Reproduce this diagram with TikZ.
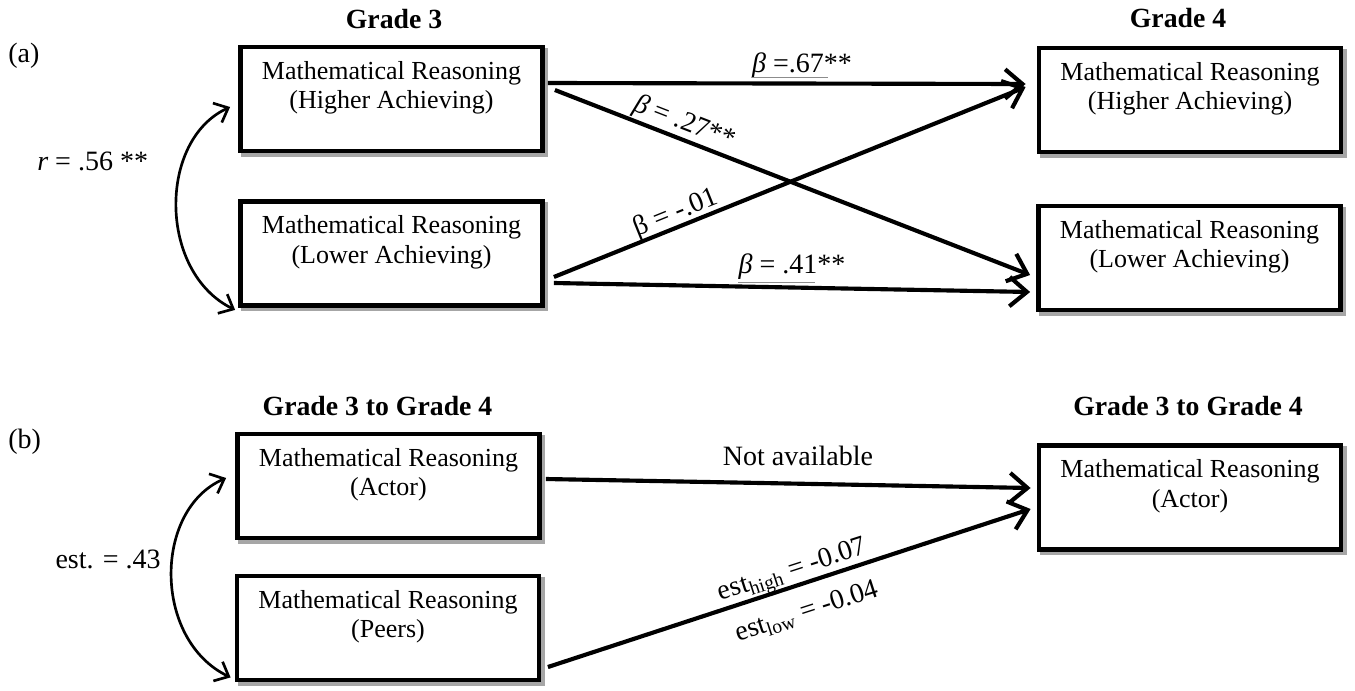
\documentclass[tikz,border=0pt]{standalone}
\usepackage{fontspec}
\setmainfont{Liberation Serif}
\usetikzlibrary{arrows.meta,calc,shadows}
\begin{document}
\begin{tikzpicture}[x=0.75pt,y=-0.75pt,
  font=\fontsize{19.5pt}{22pt}\selectfont,
  box/.style={draw, line width=3.6pt, fill=white, minimum width=226.5pt, minimum height=78pt, inner sep=0pt,
    drop shadow={shadow xshift=2.5pt,shadow yshift=-2.5pt,fill=black!35,draw=black!35,opacity=1}},
  boxtext/.style={anchor=north, align=center, inner sep=0pt},
  title/.style={font=\fontsize{20.8pt}{24pt}\selectfont\bfseries, anchor=base, inner sep=0pt},
  plain/.style={font=\fontsize{21pt}{24pt}\selectfont, inner sep=0pt},
  arr/.style={line width=3.1pt, -{Straight Barb[length=13pt,width=22pt]}},
  corr/.style={line width=2pt, {Straight Barb[length=9pt,width=16pt]}-{Straight Barb[length=9pt,width=16pt]}},
  uline/.style={draw=black!45, line width=0.6pt}
]
\useasboundingbox (0,0) rectangle (1355,690);

% panel labels
\node[plain, anchor=base west] (pa) at (8,62) {(a)};
\node[plain, anchor=base west] (pb) at (8,448) {(b)};

% titles
\node[title] (g3) at (394,28) {Grade 3};
\node[title] (g4) at (1178,27) {Grade 4};
\node[title] (g34a) at (377.5,415) {Grade 3 to Grade 4};
\node[title] (g34b) at (1188,415) {Grade 3 to Grade 4};

% boxes (a)
\node[box] (a1) at (391.5,99) {};
\node[box] (a2) at (391.5,253.5) {};
\node[box] (a3) at (1190,100) {};
\node[box] (a4) at (1189.5,258) {};
\node[boxtext] (a1t) at ($(a1.center)+(0,-38)$) {Mathematical Reasoning\\(Higher Achieving)};
\node[boxtext] (a2t) at ($(a2.center)+(0,-38)$) {Mathematical Reasoning\\(Lower Achieving)};
\node[boxtext] (a3t) at ($(a3.center)+(0,-38)$) {Mathematical Reasoning\\(Higher Achieving)};
\node[boxtext] (a4t) at ($(a4.center)+(0,-38)$) {Mathematical Reasoning\\(Lower Achieving)};

% boxes (b)
\node[box] (b1) at (388.5,486) {};
\node[box] (b2) at (388,628) {};
\node[box] (b3) at (1190,497.5) {};
\node[boxtext] (b1t) at ($(b1.center)+(0,-38)$) {Mathematical Reasoning\\(Actor)};
\node[boxtext] (b2t) at ($(b2.center)+(0,-38)$) {Mathematical Reasoning\\(Peers)};
\node[boxtext] (b3t) at ($(b3.center)+(0,-38)$) {Mathematical Reasoning\\(Actor)};

% arrows (a)
\draw[arr] ($(a1.east)+(3,-16)$) -- ($(a3.west)+(-11,-16)$);
\draw[arr] ($(a1.east)+(10,-9)$) -- ($(a4.west)+(-6,17)$)
  node[plain, sloped, above, pos=0.26, inner sep=1pt] (l27) {\textit{β} = .27**};
\draw[arr] ($(a2.east)+(9,23.5)$) -- ($(a3.west)+(-11,-13)$)
  node[plain, sloped, above, pos=0.27, inner sep=-1pt] (l01) {β = -.01};
\draw[arr] ($(a2.east)+(9,29.5)$) -- ($(a4.west)+(-6,34)$);

\node[plain, anchor=base] (l67) at (802,72) {\textit{β} =.67**};
\node[plain, anchor=base] (l41) at (792,273) {\textit{β} = .41**};
\draw[uline] (752,77) -- (828,77);
\draw[uline] (738,282) -- (815,282);

% correlation (a)
\node[plain, anchor=base west] (rl) at (37,170) {\textit{r} = .56 **};
\draw[corr] ($(a1.west)+(-8,8)$) .. controls (158,140) and (158,272) .. ($(a2.south west)+(-3,2)$);

% arrows (b)
\draw[arr] ($(b1.east)+(4,-7)$) -- ($(b3.west)+(-6,-9.5)$);
\draw[arr] ($(b2.east)+(6.5,39)$) -- ($(b3.west)+(-6,11.5)$);
\node[plain, rotate=17.9] (eh) at (793,572) {est\textsubscript{high} = -0.07};
\node[plain, rotate=17.9] (elo) at (807,612) {est\textsubscript{low} = -0.04};
\node[plain, anchor=base] (na) at (798,465) {Not available};

% correlation (b)
\node[plain, anchor=base east] (el) at (161,568) {est. = .43};
\draw[corr] ($(b1.west)+(-9,-8)$) .. controls (153,510) and (153,640) .. ($(b2.south west)+(-4,-5)$);
\end{tikzpicture}
\end{document}
